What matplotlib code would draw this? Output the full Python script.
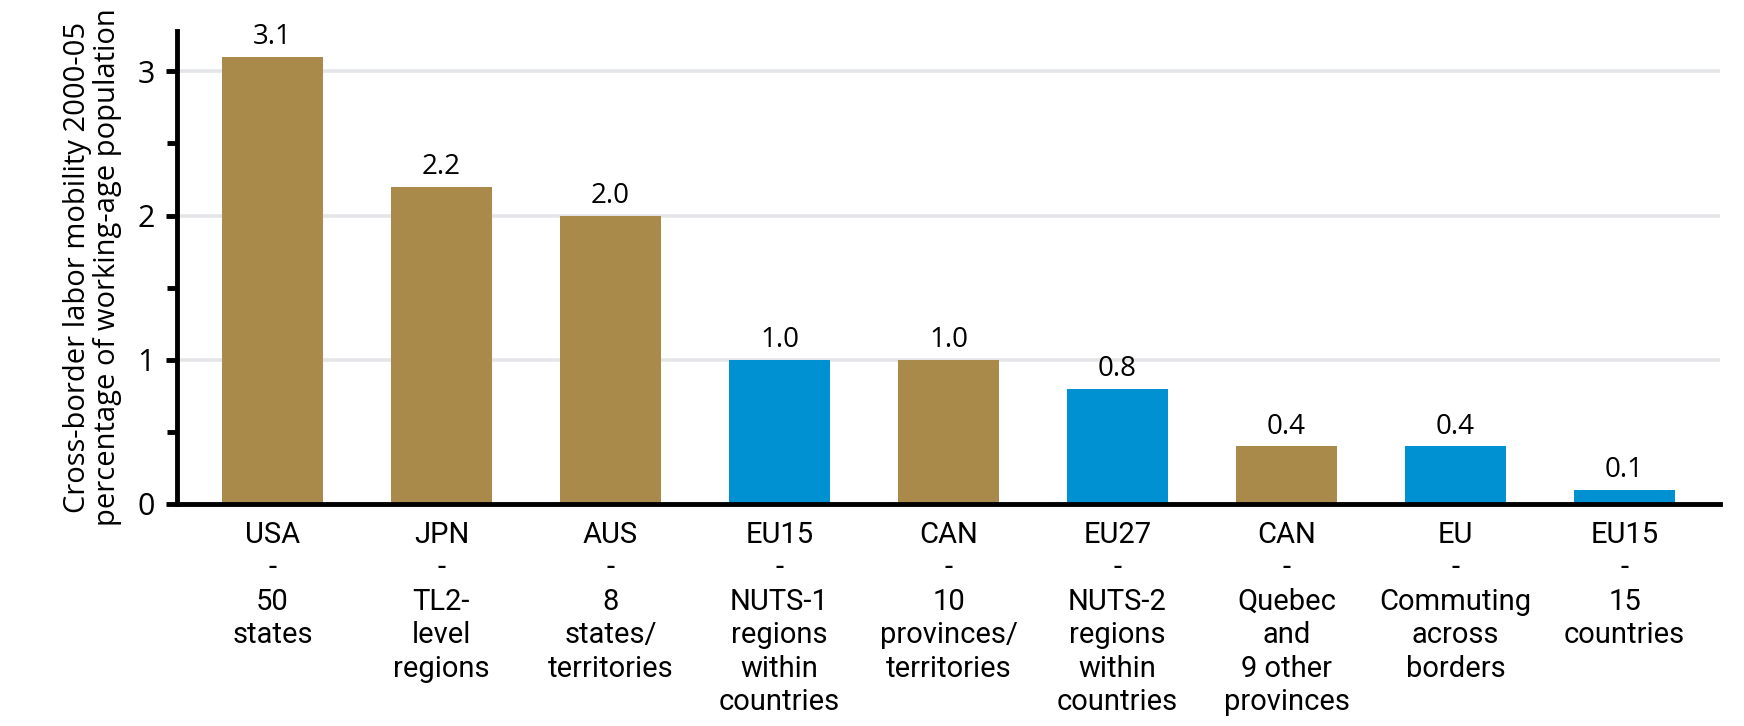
import numpy as np
import matplotlib.pyplot as plt
from matplotlib.ticker import MultipleLocator

# 数据
categories = ['USA\n-\n50\nstates',
              'JPN\n-\nTL2-\nlevel\nregions',
              'AUS\n-\n8\nstates/\nterritories',
              'EU15\n-\nNUTS-1\nregions\nwithin\ncountries',
              'CAN\n-\n10\nprovinces/\nterritories',
              'EU27\n-\nNUTS-2\nregions\nwithin\ncountries',
              'CAN\n-\nQuebec\nand\n9 other\nprovinces',
              'EU\n-\nCommuting\nacross\nborders',
              'EU15\n-\n15\ncountries']
values = [3.1, 2.2, 2.0, 1.0, 1.0, 0.8, 0.4, 0.4, 0.1]
groups = ['nat', 'nat', 'nat', 'eu', 'nat', 'eu', 'nat', 'eu', 'eu']

gold = '#A98A4B'
blue = '#0091D2'
colors = [gold if g == 'nat' else blue for g in groups]

plt.rcParams['font.family'] = ['Open Sans', 'DejaVu Sans']

fig = plt.figure(figsize=(17.44, 7.26), dpi=100)
ax = fig.add_axes([0.1015, 0.3058, 0.8847, 0.6515])

x = np.arange(len(values))
bars = ax.bar(x, values, width=0.6, color=colors, zorder=2)
ax.bar_label(bars, labels=[f'{v:.1f}' for v in values], padding=4,
             fontsize=20, color='black')

ax.set_xlim(-0.565, len(values) - 1 + 0.565)
ax.set_ylim(0, 3.28)
ax.yaxis.set_major_locator(MultipleLocator(1))
ax.yaxis.set_minor_locator(MultipleLocator(0.5))
ax.grid(axis='y', which='major', color='#E4E5E8', linewidth=2.6, zorder=0)

for s in ['top', 'right']:
    ax.spines[s].set_visible(False)
for s in ['left', 'bottom']:
    ax.spines[s].set_linewidth(3.5)

ax.tick_params(axis='y', which='major', length=8, width=3.5, labelsize=22, pad=8)
ax.tick_params(axis='y', which='minor', length=7, width=3.5)
ax.tick_params(axis='x', length=0, pad=12)

ax.set_xticks(x)
ax.set_xticklabels(categories, fontsize=21, linespacing=1.25,
                   family=['Roboto', 'DejaVu Sans'])

ax.set_ylabel('Cross-border labor mobility 2000-05\npercentage of working-age population',
              fontsize=21, linespacing=1.05, labelpad=11)

fig.savefig('out.png', dpi=100)
